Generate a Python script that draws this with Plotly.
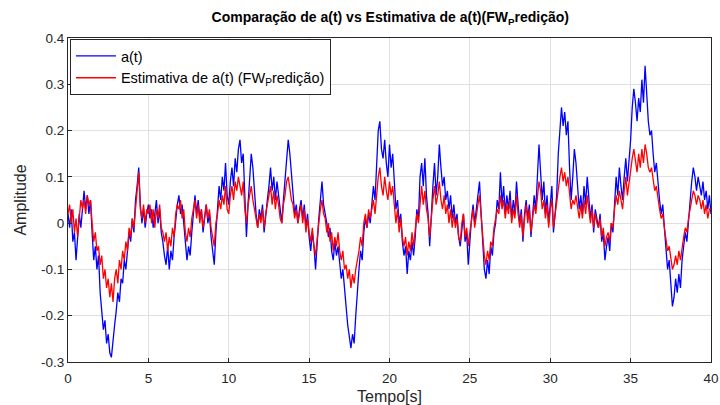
import plotly.graph_objects as go

sample_interval = 0.1

a_t = [
    0.02, -0.01, 0.03, -0.04, -0.02, -0.08, -0.03, 0.02, -0.01, 0.04,
    0.07, 0.03, 0.06, 0.02, 0.05, -0.02, -0.08, -0.05, -0.10, -0.07,
    -0.15, -0.19, -0.23, -0.21, -0.26, -0.24, -0.28, -0.29, -0.25, -0.22,
    -0.19, -0.15, -0.17, -0.12, -0.13, -0.08, -0.10, -0.05, -0.02, -0.04,
    0.01, -0.02, 0.05, 0.08, 0.12, 0.04, 0.00, 0.03, -0.01, 0.02,
    0.04, 0.01, 0.03, -0.01, 0.02, 0.05, 0.00, 0.03, -0.02, -0.04,
    -0.07, -0.09, -0.05, -0.10, -0.06, -0.08, -0.03, 0.01, 0.04, 0.06,
    0.02, 0.04, 0.00, -0.04, -0.08, -0.05, -0.07, -0.02, 0.03, 0.06,
    0.02, 0.05, 0.01, 0.03, -0.02, 0.01, 0.04, 0.00, 0.02, -0.03,
    -0.06, -0.09, -0.02, 0.03, 0.08, 0.05, 0.10, 0.07, 0.13, 0.06,
    0.04, 0.09, 0.12, 0.08, 0.14, 0.11, 0.16, 0.18, 0.13, 0.15,
    0.05, -0.03, 0.04, 0.10, 0.15, 0.12, 0.06, 0.02, -0.01, 0.03,
    0.01, 0.04, -0.02, 0.02, 0.05, 0.08, 0.12, 0.07, 0.10, 0.05,
    0.09, 0.06, 0.03, 0.00, 0.05, 0.09, 0.14, 0.18, 0.15, 0.11,
    0.06, 0.02, 0.04, 0.00, 0.03, 0.05, 0.01, 0.04, -0.01, 0.02,
    -0.03, -0.06, -0.02, -0.05, -0.10, -0.04, 0.01, 0.05, 0.09, 0.04,
    0.02, 0.00, -0.03, -0.01, -0.06, -0.08, -0.04, -0.07, -0.05, -0.09,
    -0.12, -0.10, -0.15, -0.18, -0.22, -0.25, -0.27, -0.24, -0.26, -0.20,
    -0.14, -0.10, -0.06, -0.08, -0.02, 0.01, -0.01, 0.02, 0.00, 0.04,
    0.08, 0.05, 0.12, 0.20, 0.22, 0.16, 0.14, 0.18, 0.13, 0.10,
    0.17, 0.12, 0.15, 0.08, 0.03, 0.05, 0.00, 0.02, -0.04, -0.07,
    -0.05, -0.11, -0.06, -0.08, -0.04, -0.07, -0.03, 0.03, 0.01, 0.10,
    0.13, 0.08, 0.14, 0.06, 0.02, -0.05, 0.03, 0.08, 0.13, 0.06,
    0.10, 0.17, 0.12, 0.08, 0.10, 0.05, 0.07, 0.03, 0.06, 0.01,
    0.04, 0.00, 0.02, -0.03, -0.05, -0.01, 0.02, -0.04, -0.02, -0.09,
    -0.03, 0.01, 0.04, 0.00, 0.03, 0.06, 0.09, 0.02, -0.04, -0.10,
    -0.12, -0.08, -0.11, -0.05, -0.07, -0.02, 0.00, 0.05, 0.03, 0.11,
    0.04, 0.08, 0.02, 0.06, 0.03, 0.07, 0.01, 0.05, 0.02, 0.09,
    0.04, 0.00, 0.03, -0.04, 0.02, 0.05, 0.01, 0.04, -0.03, 0.02,
    0.06, 0.03, 0.10, 0.17, 0.11, 0.05, 0.09, 0.02, 0.06, 0.00,
    0.04, 0.08, -0.02, 0.03, 0.06, 0.15, 0.20, 0.25, 0.21, 0.24,
    0.19, 0.22, 0.12, 0.05, 0.10, 0.16, 0.13, 0.07, 0.03, 0.06,
    0.02, 0.08, 0.04, 0.10, 0.05, 0.01, 0.04, -0.02, 0.03, 0.01,
    -0.01, 0.02, -0.04, -0.02, -0.08, -0.05, -0.03, -0.06, 0.00, -0.02,
    0.04, 0.10, 0.06, 0.12, 0.08, 0.05, 0.10, 0.14, 0.09, 0.13,
    0.18, 0.25, 0.29, 0.26, 0.22, 0.27, 0.24, 0.31, 0.26, 0.34,
    0.28, 0.22, 0.19, 0.20, 0.15, 0.11, 0.13, 0.08, 0.05, 0.02,
    0.04, -0.01, -0.06, -0.10, -0.08, -0.14, -0.18, -0.16, -0.12, -0.15,
    -0.11, -0.14, -0.08, -0.05, -0.02, -0.04, 0.01, 0.04, 0.09, 0.12,
    0.10, 0.07, 0.10, 0.08, 0.06, 0.09, 0.05, 0.07, 0.03, 0.06,
    0.02,
]

a_est = [
    0.02, 0.04, 0.00, 0.03, -0.02, 0.01, -0.03, 0.02, 0.05, 0.03,
    0.05, 0.02, 0.06, 0.04, 0.05, 0.00, -0.04, -0.02, -0.06, -0.05,
    -0.09, -0.07, -0.12, -0.10, -0.14, -0.12, -0.16, -0.13, -0.17, -0.12,
    -0.10, -0.13, -0.08, -0.10, -0.06, -0.08, -0.04, -0.06, -0.01, -0.03,
    0.01, -0.01, 0.03, 0.06, 0.11, 0.03, 0.01, 0.04, 0.00, 0.03,
    0.02, 0.04, 0.00, 0.03, -0.01, 0.03, 0.01, 0.04, -0.01, -0.02,
    -0.04, -0.02, -0.06, -0.03, -0.05, -0.01, -0.03, 0.02, 0.04, 0.03,
    0.05, 0.01, 0.03, -0.02, -0.04, -0.01, -0.03, 0.01, 0.03, 0.05,
    0.01, 0.04, 0.00, 0.03, -0.01, 0.02, 0.04, 0.01, 0.03, -0.01,
    -0.03, -0.05, 0.00, 0.02, 0.05, 0.03, 0.06, 0.04, 0.08, 0.03,
    0.02, 0.06, 0.08, 0.05, 0.09, 0.07, 0.10, 0.08, 0.06, 0.09,
    0.03, 0.00, 0.04, 0.06, 0.08, 0.05, 0.03, 0.01, -0.01, 0.02,
    0.00, 0.03, -0.01, 0.02, 0.04, 0.06, 0.08, 0.04, 0.07, 0.03,
    0.06, 0.04, 0.01, 0.00, 0.04, 0.06, 0.09, 0.10, 0.07, 0.05,
    0.04, 0.01, 0.03, 0.00, 0.02, 0.04, 0.00, 0.03, -0.02, 0.01,
    -0.02, -0.04, -0.01, -0.05, -0.07, -0.03, 0.00, 0.03, 0.05, 0.02,
    0.01, -0.02, 0.00, -0.04, -0.02, -0.06, -0.03, -0.05, -0.02, -0.06,
    -0.08, -0.06, -0.10, -0.09, -0.12, -0.10, -0.14, -0.11, -0.13, -0.10,
    -0.08, -0.06, -0.03, -0.05, 0.00, 0.02, -0.01, 0.03, 0.01, 0.03,
    0.05, 0.02, 0.07, 0.10, 0.12, 0.08, 0.06, 0.10, 0.07, 0.05,
    0.09, 0.06, 0.08, 0.04, 0.00, 0.03, -0.02, 0.01, -0.03, -0.05,
    -0.03, -0.07, -0.04, -0.06, -0.02, -0.05, -0.01, 0.02, 0.00, 0.05,
    0.08, 0.04, 0.07, 0.03, 0.01, -0.03, 0.02, 0.05, 0.08, 0.04,
    0.06, 0.09, 0.05, 0.03, 0.06, 0.02, 0.04, 0.00, 0.03, -0.01,
    0.02, -0.01, 0.01, -0.03, -0.04, 0.00, 0.02, -0.03, -0.01, -0.05,
    -0.02, 0.01, 0.03, -0.01, 0.02, 0.04, 0.06, 0.01, -0.03, -0.07,
    -0.09, -0.06, -0.08, -0.04, -0.05, -0.01, 0.01, 0.03, 0.02, 0.06,
    0.03, 0.05, 0.01, 0.04, 0.02, 0.05, 0.00, 0.03, 0.01, 0.06,
    0.02, -0.01, 0.02, -0.03, 0.01, 0.04, 0.00, 0.03, -0.02, 0.01,
    0.04, 0.02, 0.06, 0.09, 0.07, 0.03, 0.05, 0.01, 0.04, -0.01,
    0.03, 0.05, -0.01, 0.02, 0.04, 0.08, 0.10, 0.12, 0.09, 0.11,
    0.08, 0.10, 0.06, 0.03, 0.05, 0.04, 0.06, 0.03, 0.01, 0.04,
    0.01, 0.05, 0.02, 0.06, 0.03, 0.00, 0.03, -0.01, 0.02, 0.00,
    -0.01, 0.01, -0.03, -0.01, -0.05, -0.03, -0.02, -0.04, 0.00, -0.01,
    0.03, 0.06, 0.04, 0.07, 0.05, 0.03, 0.07, 0.10, 0.06, 0.09,
    0.11, 0.14, 0.16, 0.13, 0.11, 0.15, 0.12, 0.16, 0.13, 0.17,
    0.15, 0.12, 0.11, 0.12, 0.09, 0.07, 0.08, 0.05, 0.03, 0.01,
    0.02, -0.01, -0.04, -0.06, -0.05, -0.08, -0.10, -0.09, -0.07, -0.09,
    -0.06, -0.08, -0.05, -0.03, -0.01, -0.02, 0.01, 0.03, 0.05, 0.07,
    0.06, 0.04, 0.06, 0.05, 0.03, 0.05, 0.02, 0.04, 0.01, 0.03,
    0.03,
]

time_s = [round(i * sample_interval, 1) for i in range(len(a_t))]

x_ticks = [0, 5, 10, 15, 20, 25, 30, 35, 40]
y_ticks = [-0.3, -0.2, -0.1, 0, 0.1, 0.2, 0.3, 0.4]
y_tick_labels = ["-0.3", "-0.2", "-0.1", "0", "0.1", "0.2", "0.3", "0.4"]

fig = go.Figure()
fig.add_trace(go.Scatter(x=time_s, y=a_t, mode="lines", name="a(t)",
                         line=dict(color="#0000ff", width=1.3)))
fig.add_trace(go.Scatter(x=time_s, y=a_est, mode="lines",
                         name="Estimativa de a(t) (FW<sub>P</sub>redição)",
                         line=dict(color="#ff0000", width=1.3)))

axis_common = dict(
    showline=True, linecolor="#262626", linewidth=1, mirror=True,
    ticks="inside", ticklen=4, tickcolor="#262626",
    showgrid=True, gridcolor="#e0e0e0", gridwidth=1,
    zeroline=False, tickfont=dict(size=13.5, color="#262626"),
    automargin=False, ticklabeloverflow="allow",
)

fig.update_layout(
    width=720, height=405,
    paper_bgcolor="white", plot_bgcolor="white",
    font=dict(family="Liberation Sans, Arial, sans-serif", color="#262626"),
    margin=dict(l=68, r=9, t=38, b=43),
    title=dict(text="<b>Comparação de a(t) vs Estimativa de a(t)(FW<sub>P</sub>redição)</b>",
               x=0.542, xanchor="center", y=0.958, yanchor="middle",
               font=dict(size=14, color="black")),
    xaxis=dict(range=[0, 40], tickvals=x_ticks, ticklabelstandoff=4,
               title=dict(text="Tempo[s]", standoff=12, font=dict(size=16)),
               **axis_common),
    yaxis=dict(range=[-0.3, 0.4], tickvals=y_ticks, ticktext=y_tick_labels,
               title=dict(text="Amplitude", standoff=10, font=dict(size=16)),
               **axis_common),
    legend=dict(x=0.003, y=0.997, xanchor="left", yanchor="top",
                bgcolor="white", bordercolor="#262626", borderwidth=1,
                font=dict(size=14.5, color="black"), tracegroupgap=0,
                itemwidth=40),
    showlegend=True,
)

fig.write_html("out.html",
               config={"displayModeBar": False},
               post_script="document.body.style.margin='0';")
